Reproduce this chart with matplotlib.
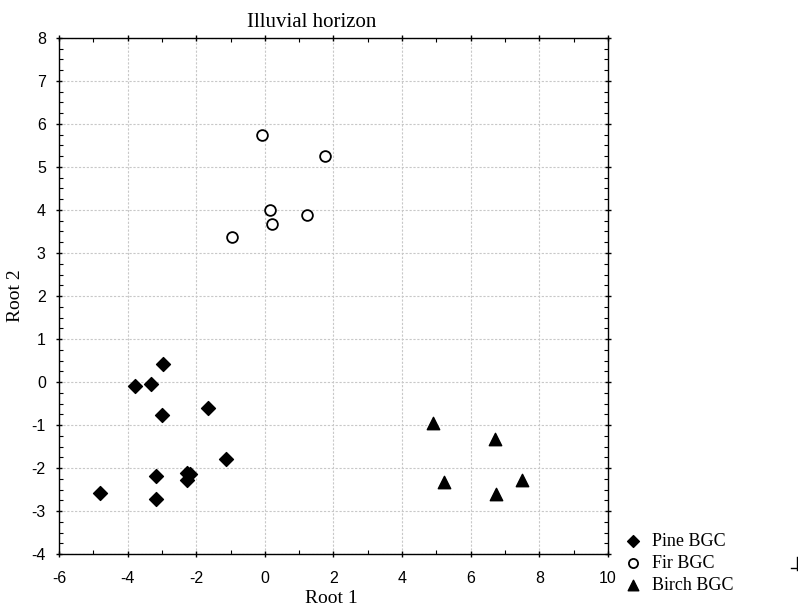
import matplotlib
matplotlib.use("Agg")
import matplotlib.pyplot as plt
from matplotlib.lines import Line2D
from matplotlib.ticker import MultipleLocator

plt.rcParams["axes.unicode_minus"] = False

# Discriminant scores
pine_x = [-2.96, -3.79, -3.32, -3.00, -1.66, -1.14, -3.17, -2.26, -2.18, -2.27, -4.79, -3.17]
pine_y = [0.41, -0.09, -0.05, -0.76, -0.60, -1.79, -2.18, -2.11, -2.14, -2.29, -2.59, -2.71]

fir_x = [-0.07, 1.75, 0.16, 1.23, 0.20, -0.95]
fir_y = [5.74, 5.26, 4.01, 3.88, 3.68, 3.38]

birch_x = [4.91, 6.70, 5.23, 7.49, 6.74]
birch_y = [-0.96, -1.32, -2.32, -2.29, -2.60]

group_labels = ["Pine BGC", "Fir BGC", "Birch BGC"]

serif = ["Liberation Serif", "DejaVu Serif"]
sans = ["Liberation Sans", "DejaVu Sans"]

fig = plt.figure(figsize=(7.98, 6.06), dpi=100)
ax = fig.add_axes([0.0739, 0.0858, 0.688, 0.8515])

ax.scatter(pine_x, pine_y, marker="D", s=50, c="black", zorder=3, label=group_labels[0])
ax.scatter(fir_x, fir_y, marker="o", s=60, facecolors="white", edgecolors="black",
           linewidths=1.3, zorder=3, label=group_labels[1])
ax.scatter(birch_x, birch_y, marker="^", s=80, c="black", zorder=3, label=group_labels[2])

ax.set_xlim(-6, 10)
ax.set_ylim(-4, 8)
ax.xaxis.set_major_locator(MultipleLocator(2))
ax.xaxis.set_minor_locator(MultipleLocator(1))
ax.yaxis.set_major_locator(MultipleLocator(1))
ax.yaxis.set_minor_locator(MultipleLocator(0.25))
ax.tick_params(which="major", direction="inout", length=5, width=1,
               top=True, right=True, labelsize=11.5)
ax.tick_params(axis="x", which="major", pad=10)
ax.tick_params(axis="y", which="major", pad=7)
ax.tick_params(which="minor", direction="in", length=3, width=0.8, top=True, right=True)
for lab in ax.get_xticklabels() + ax.get_yticklabels():
    lab.set_family(sans)

ax.grid(True, which="major", color="#c8c8c8", linestyle=(0, (2, 1.5)), linewidth=0.8)
ax.set_axisbelow(True)
for sp in ax.spines.values():
    sp.set_linewidth(1)

ax.set_ylabel("Root 2", fontsize=14, family=serif, labelpad=5)
fig.text(331 / 798, 1 - 603 / 606, "Root 1", fontsize=14, family=serif,
         ha="center", va="baseline")
fig.text(312 / 798, 1 - 27 / 606, "Illuvial horizon", fontsize=15, family=serif,
         ha="center", va="baseline")

fig.legend(loc="upper left", bbox_to_anchor=(624 / 798, 1 - 533 / 606), frameon=False,
           prop={"family": serif, "size": 13}, handletextpad=0.55, labelspacing=0.28,
           borderaxespad=0, borderpad=0, handlelength=1.0, markerscale=0.85)

# small stray mark at the right edge of the original picture
fig.add_artist(Line2D([0.9985, 0.9985], [1 - 557 / 606, 1 - 570 / 606], color="black", lw=1))
fig.add_artist(Line2D([0.991, 0.9985], [1 - 568 / 606, 1 - 568 / 606], color="black", lw=1))

fig.savefig("out.png", dpi=100)
